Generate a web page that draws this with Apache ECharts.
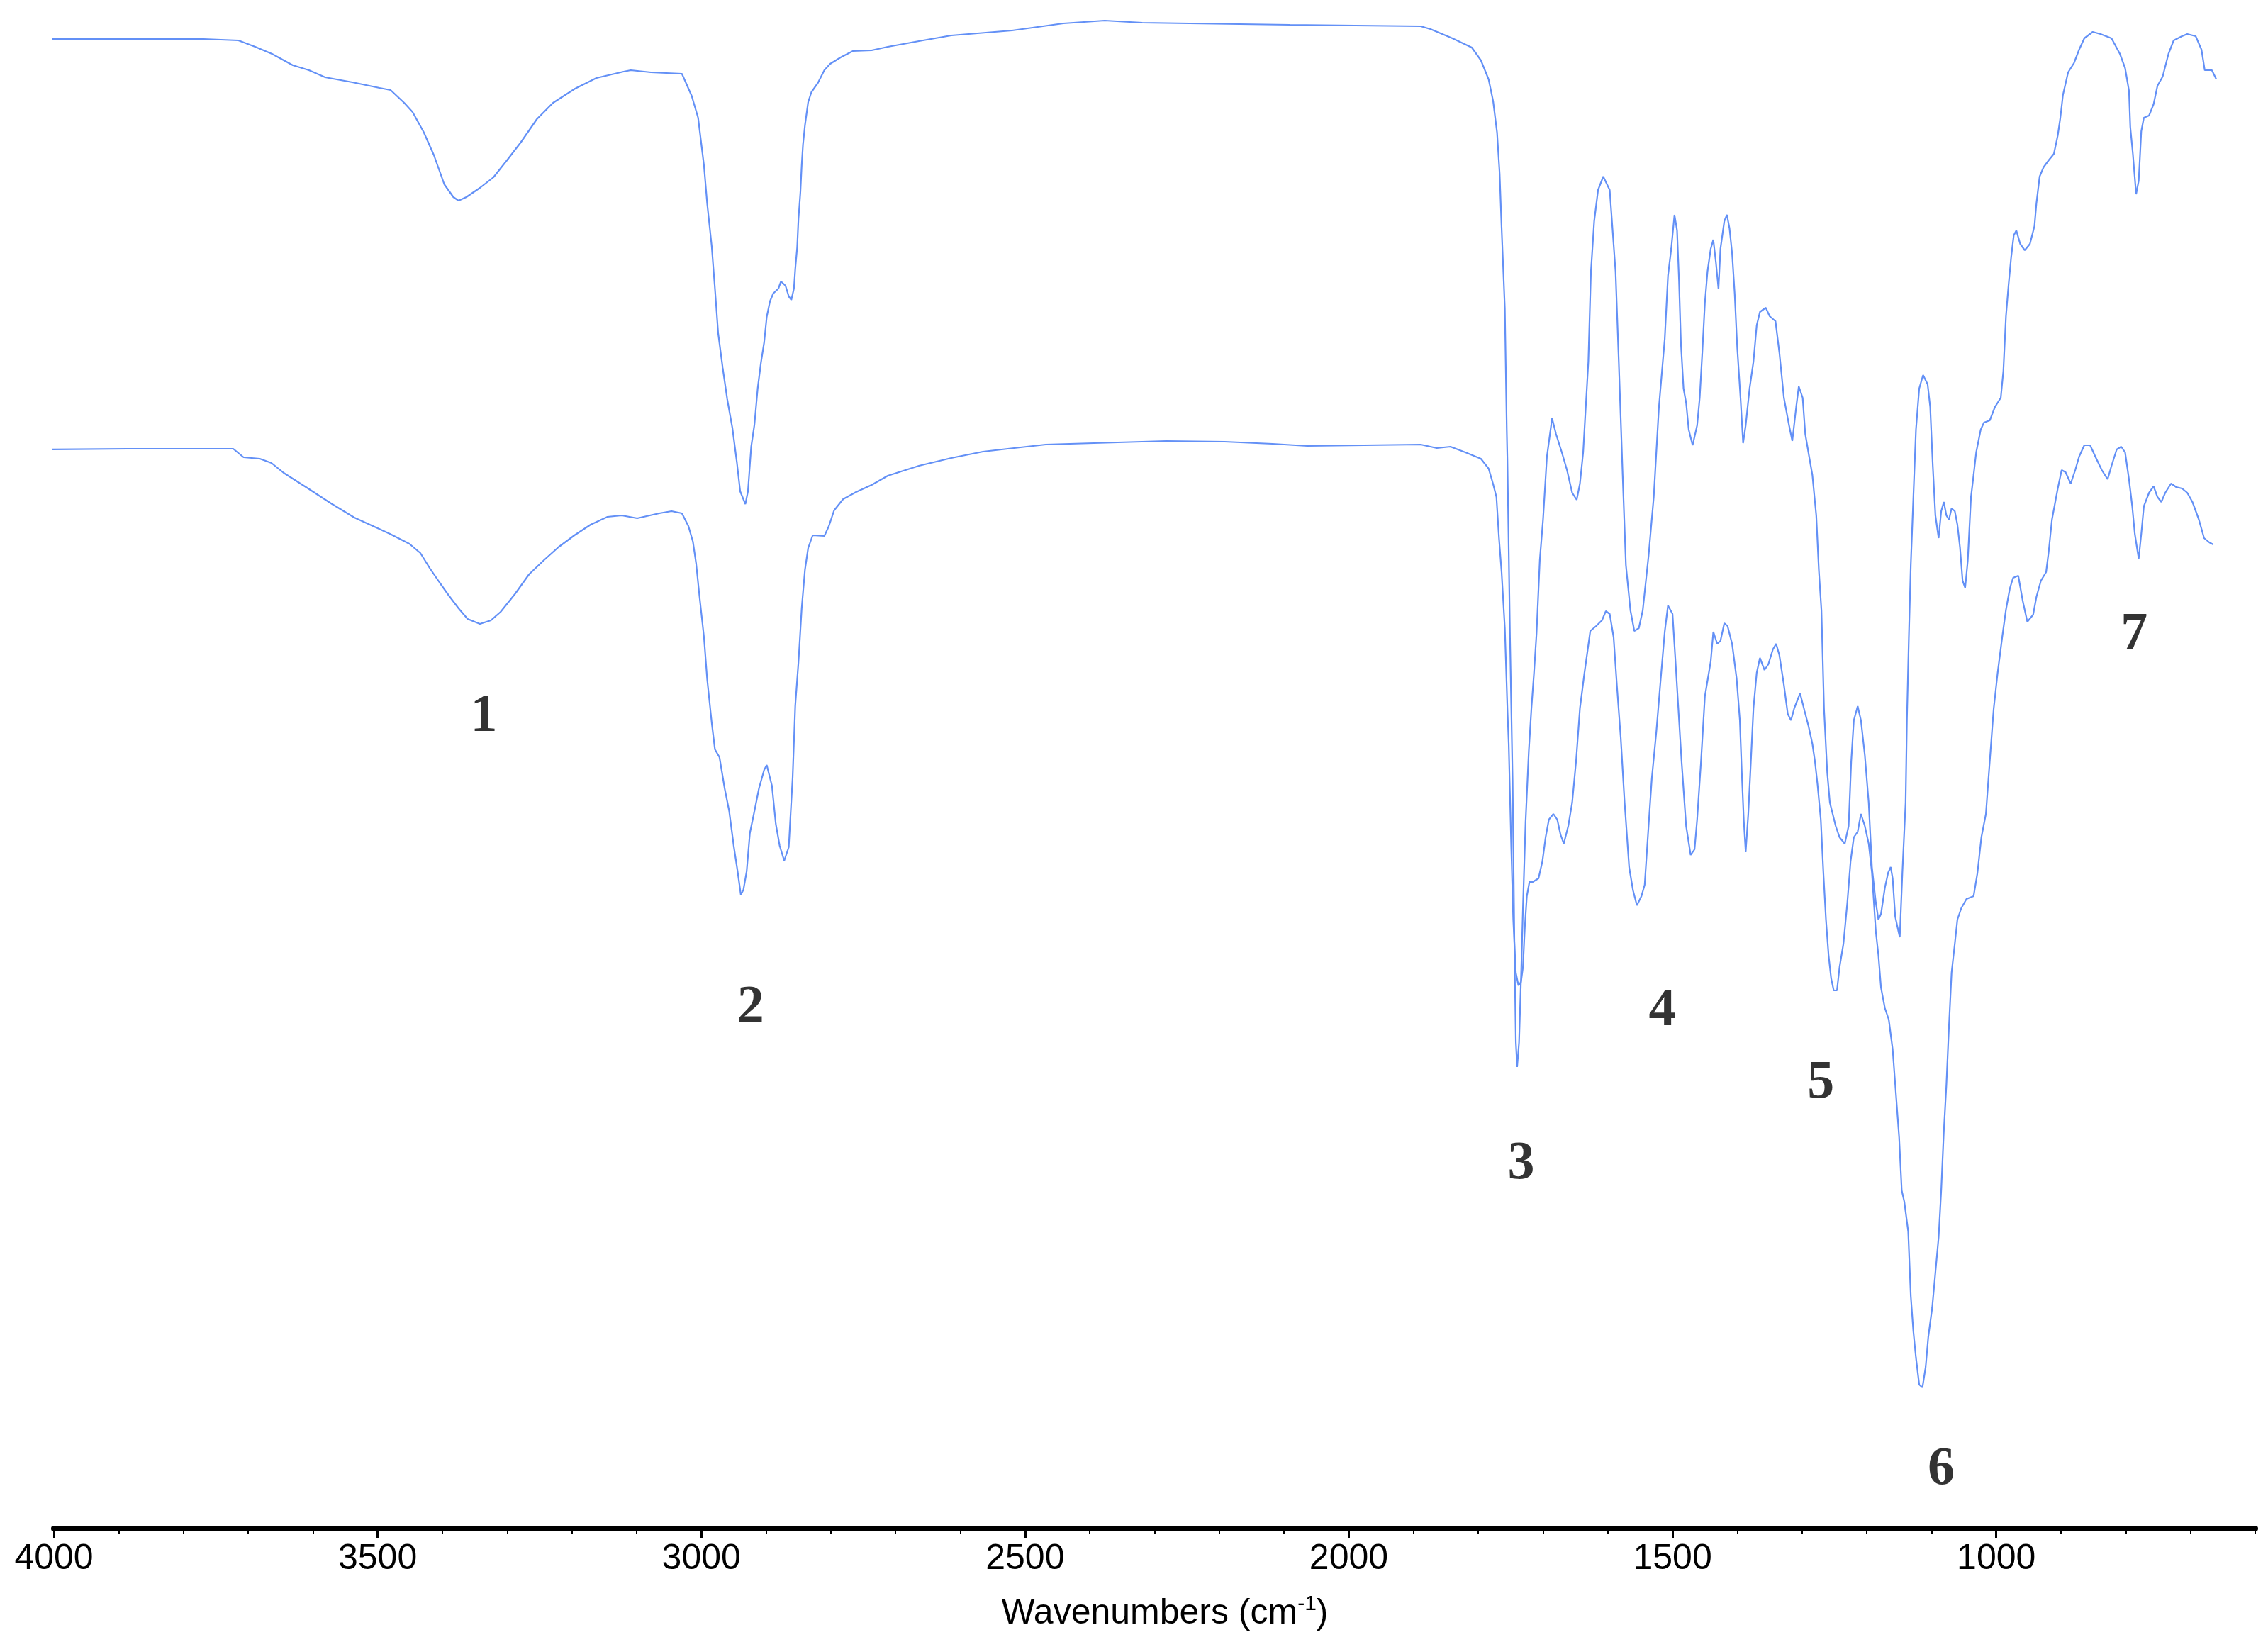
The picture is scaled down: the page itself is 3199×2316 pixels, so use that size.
<!DOCTYPE html>
<html>
<head>
<meta charset="utf-8">
<script src="https://cdn.jsdelivr.net/npm/echarts@6/dist/echarts.min.js"></script>
<style>
html,body{margin:0;padding:0;background:#fff;}
#chart{width:3199px;height:2316px;}
</style>
</head>
<body>
<div id="chart"></div>
<script>
// Upper FTIR spectrum: [wavenumber (cm-1), transmittance (a.u., offset)]
const topSpectrum = [
[4008,210.1],[3886,210.1],[3769,210.1],[3715,209.9],[3689,209.0],[3663,208.0],[3631,206.4],[3606,205.7],[3581,204.7],[3539,204.0],[3497,203.2],[3480,202.9],[3459,201.1],[3446,199.8],[3429,197.0],[3413,193.7],[3397,189.6],[3383,187.8],[3375,187.3],[3363,187.8],[3342,189.1],[3321,190.6],[3301,192.9],[3279,195.5],[3254,198.8],[3229,201.1],[3195,203.1],[3162,204.6],[3120,205.5],[3109,205.7],[3078,205.4],[3030,205.2],[3015,202.1],[3005,199.0],[2996,192.3],[2991,186.9],[2984,180.9],[2979,174.9],[2974,168.6],[2967,163.7],[2960,159.3],[2952,155.2],[2945,150.3],[2940,146.3],[2932,144.5],[2928,146.3],[2923,152.6],[2918,155.7],[2913,160.8],[2908,164.4],[2903,167.3],[2899,170.9],[2894,173.1],[2889,174.2],[2881,174.9],[2877,175.9],[2870,175.3],[2865,173.8],[2861,173.3],[2857,174.9],[2855,177.6],[2852,180.7],[2850,184.7],[2847,188.5],[2845,192.3],[2843,195.2],[2840,197.9],[2835,201.2],[2830,202.6],[2820,203.9],[2810,205.7],[2801,206.6],[2785,207.5],[2766,208.4],[2737,208.5],[2712,209.0],[2664,209.8],[2614,210.6],[2520,211.3],[2441,212.3],[2377,212.7],[2319,212.4],[2246,212.3],[2091,212.1],[1889,211.9],[1874,211.5],[1840,210.2],[1810,208.9],[1796,207.1],[1784,204.4],[1777,201.3],[1771,196.9],[1767,191.1],[1764,183.5],[1759,172.1],[1756,154.9],[1755,150.6],[1751,125.6],[1747,105.6],[1744,80.6],[1742,68.6],[1740,65.1],[1737,68.6],[1734,77.6],[1731,87.6],[1727,99.6],[1722,109.6],[1718,115.6],[1714,120.6],[1710,126.3],[1705,136.6],[1700,142.3],[1694,151.2],[1686,156.6],[1680,154.4],[1671,151.8],[1663,149.3],[1655,146.1],[1648,145.1],[1643,147.4],[1638,151.8],[1630,164.6],[1626,177.3],[1621,184.4],[1615,188.8],[1607,190.7],[1597,188.8],[1588,177.3],[1583,164.6],[1577,148.6],[1572,135.9],[1565,129.5],[1559,126.6],[1552,127.0],[1546,129.5],[1537,137.2],[1529,145.5],[1521,158.2],[1512,167.8],[1507,176.7],[1502,180.5],[1497,185.3],[1493,183.1],[1490,176.1],[1487,167.1],[1483,160.8],[1479,158.8],[1475,155.0],[1469,152.8],[1462,155.6],[1458,159.5],[1454,165.9],[1450,172.9],[1446,177.3],[1441,180.5],[1437,181.8],[1433,178.6],[1429,174.8],[1426,180.5],[1420,184.4],[1416,185.3],[1412,183.4],[1408,179.9],[1404,174.2],[1400,166.5],[1395,159.5],[1391,153.1],[1387,155.6],[1381,160.8],[1375,164.6],[1370,169.7],[1365,171.6],[1356,172.2],[1350,171.0],[1341,170.3],[1335,165.9],[1328,159.5],[1320,155.6],[1315,153.4],[1309,158.2],[1305,161.1],[1299,159.5],[1295,154.4],[1289,151.2],[1284,148.6],[1278,142.9],[1274,135.2],[1270,129.5],[1266,115.6],[1261,106.6],[1257,102.4],[1248,99.1],[1242,97.5],[1234,96.6],[1228,99.1],[1224,108.2],[1220,114.0],[1214,116.0],[1209,114.0],[1203,109.1],[1197,102.4],[1192,93.3],[1186,88.3],[1182,85.9],[1178,86.7],[1172,90.4],[1167,92.5],[1163,93.3],[1160,91.7],[1156,86.3],[1151,84.2],[1149,83.4],[1145,92.5],[1140,102.4],[1138,114.0],[1135,125.6],[1132,135.9],[1128,145.5],[1124,155.0],[1119,160.8],[1113,162.7],[1106,161.4],[1102,158.2],[1098,149.9],[1094,142.9],[1089,139.7],[1085,143.5],[1081,144.8],[1077,142.9],[1073,142.3],[1069,143.9],[1064,143.5],[1060,141.6],[1056,138.4],[1052,133.7],[1048,132.7],[1044,136.5],[1039,145.5],[1035,148.6],[1031,151.8],[1024,155.0],[1019,156.0],[1010,156.3],[1002,158.2],[993,159.5],[989,163.3],[985,171.0],[981,175.4],[977,179.3],[973,182.4],[969,183.1],[963,181.2],[956,180.3],[948,181.2],[941,183.7],[938,186.9],[933,190.7],[927,192.0],[919,193.0],[911,193.9],[905,196.5],[901,199.0],[897,202.2],[889,205.4],[880,206.7],[872,208.6],[864,210.2],[851,211.1],[839,210.8],[822,210.2],[809,208.0],[801,206.0],[795,202.8],[793,197.7],[789,193.9],[784,188.2],[780,190.1],[776,197.1],[772,199.0],[764,199.3],[757,200.9],[751,203.5],[743,204.8],[734,208.0],[726,209.9],[713,210.5],[705,210.8],[692,210.5],[683,208.6],[678,205.7],[667,205.7],[660,204.4]
];

// Lower FTIR spectrum: [wavenumber (cm-1), transmittance (a.u., offset)]
const bottomSpectrum = [
[4010,152.2],[3886,152.3],[3723,152.3],[3707,151.1],[3682,150.9],[3664,150.3],[3645,148.9],[3609,146.8],[3572,144.6],[3536,142.6],[3500,141.1],[3481,140.3],[3451,138.9],[3434,137.6],[3419,135.4],[3404,133.4],[3390,131.6],[3375,129.8],[3361,128.3],[3342,127.6],[3325,128.1],[3310,129.3],[3288,131.8],[3266,134.6],[3243,136.6],[3221,138.4],[3196,140.1],[3171,141.6],[3145,142.7],[3123,142.9],[3099,142.5],[3065,143.2],[3046,143.5],[3030,143.2],[3020,141.4],[3013,139.2],[3008,136.1],[3003,131.6],[2996,125.8],[2991,119.8],[2984,113.7],[2979,109.9],[2972,108.8],[2964,104.4],[2957,101.2],[2950,96.3],[2944,92.7],[2939,89.4],[2935,90.1],[2930,92.7],[2925,98.1],[2918,101.2],[2911,104.4],[2903,107.0],[2899,107.7],[2891,104.8],[2885,99.4],[2879,96.3],[2872,94.2],[2865,96.1],[2859,105.9],[2855,116.0],[2850,122.2],[2845,129.8],[2840,135.2],[2835,138.3],[2828,140.1],[2810,140.0],[2803,141.4],[2795,143.6],[2781,145.2],[2761,146.2],[2737,147.2],[2712,148.5],[2664,149.9],[2614,151.0],[2565,151.9],[2517,152.4],[2468,152.9],[2394,153.1],[2282,153.4],[2192,153.3],[2118,153.0],[2064,152.7],[1889,152.9],[1864,152.4],[1843,152.6],[1820,151.8],[1796,150.9],[1784,149.5],[1777,147.3],[1772,145.5],[1768,139.7],[1764,134.9],[1759,127.0],[1755,115.6],[1753,110.7],[1749,95.8],[1746,85.9],[1742,78.4],[1738,76.6],[1734,77.1],[1731,79.2],[1728,85.0],[1725,89.2],[1721,91.2],[1716,91.2],[1707,91.7],[1701,94.1],[1696,97.5],[1691,100.0],[1684,100.8],[1678,100.0],[1673,97.9],[1668,96.6],[1661,99.1],[1655,102.4],[1649,108.2],[1643,115.7],[1636,120.7],[1627,126.6],[1618,127.3],[1609,128.1],[1603,129.4],[1597,129.0],[1591,125.7],[1586,119.0],[1580,111.6],[1574,102.4],[1567,93.3],[1561,90.0],[1555,87.9],[1548,89.2],[1543,90.8],[1537,99.1],[1532,105.8],[1525,112.4],[1519,119.0],[1512,126.5],[1507,130.2],[1500,129.0],[1496,123.2],[1491,115.7],[1486,108.2],[1479,99.1],[1472,95.0],[1466,95.8],[1462,100.0],[1456,108.2],[1450,117.4],[1441,122.3],[1437,126.5],[1431,124.8],[1426,125.2],[1420,127.7],[1415,127.3],[1408,124.8],[1401,119.9],[1396,114.0],[1393,106.6],[1390,100.0],[1387,95.4],[1383,100.8],[1379,108.2],[1375,115.7],[1370,120.7],[1365,122.8],[1358,121.1],[1352,121.9],[1345,124.0],[1340,124.8],[1335,123.2],[1328,119.0],[1322,114.9],[1317,114.0],[1312,115.7],[1303,117.8],[1296,115.3],[1290,113.2],[1284,110.7],[1280,108.2],[1276,104.9],[1271,100.0],[1267,92.5],[1263,85.9],[1259,80.9],[1255,77.6],[1251,75.9],[1246,75.9],[1242,79.2],[1236,82.5],[1230,88.3],[1225,94.1],[1220,97.5],[1214,98.3],[1209,100.8],[1203,99.1],[1197,96.6],[1192,92.5],[1186,84.2],[1182,80.9],[1178,76.3],[1172,73.4],[1166,71.8],[1160,67.6],[1156,62.6],[1150,55.2],[1146,47.7],[1142,46.1],[1136,41.9],[1132,32.8],[1128,27.8],[1124,24.1],[1119,20.3],[1114,19.9],[1109,22.8],[1105,27.0],[1099,31.1],[1094,36.1],[1089,41.1],[1085,47.7],[1081,56.0],[1077,62.6],[1073,70.9],[1069,78.4],[1064,82.5],[1060,85.9],[1054,87.5],[1046,88.8],[1035,89.2],[1029,92.5],[1023,97.5],[1016,100.8],[1012,105.8],[1008,110.7],[1004,115.6],[998,120.6],[991,125.6],[985,129.6],[979,132.6],[974,134.1],[966,134.4],[959,130.8],[952,127.9],[943,128.9],[938,131.4],[931,133.7],[923,134.9],[919,137.8],[914,142.3],[905,146.7],[899,149.3],[893,149.0],[885,147.4],[878,149.3],[872,151.2],[864,152.8],[855,152.8],[847,151.2],[837,149.3],[828,148.0],[822,149.9],[814,152.2],[807,152.6],[801,151.8],[795,148.0],[790,144.2],[786,140.3],[780,136.8],[776,140.3],[772,144.2],[764,146.1],[757,147.0],[751,145.5],[745,144.8],[739,146.1],[730,147.4],[722,146.9],[713,146.7],[705,146.1],[697,144.8],[687,142.3],[679,139.7],[671,139.1],[665,138.8]
];

// Band annotations
const peakLabels = ['1', '2', '3', '4', '5', '6', '7'];
const peakLabelWn = [3336, 2924, 1734, 1516, 1271, 1085, 787];
const peakLabelT = [114.5, 73.4, 51.4, 73.0, 62.8, 8.3, 126.0];

// Axis tick values
const majorTickValues = [4000, 3500, 3000, 2500, 2000, 1500, 1000];
const xAxisTitle = 'Wavenumbers (cm';
const xAxisTitleSup = '-1';

const lineColor = '#6390f6';

const chart = echarts.init(document.getElementById('chart'), null, {renderer: 'canvas'});
const option = {
  animation: false,
  backgroundColor: '#ffffff',
  title: {
    text: '{a|' + xAxisTitle + '}{s|' + xAxisTitleSup + '}{a|)}',
    left: 1643,
    top: 2248,
    textAlign: 'center',
    padding: 0,
    textStyle: {
      fontWeight: 'normal',
      rich: {
        a: {fontFamily: 'Liberation Sans', fontWeight: 'normal', fontSize: 50, color: '#000', lineHeight: 56},
        s: {fontFamily: 'Liberation Sans', fontWeight: 'normal', fontSize: 30, color: '#000', lineHeight: 30, verticalAlign: 'top'}
      }
    }
  },
  grid: {left: 76, right: 18, top: 16, bottom: 160},
  xAxis: [
    {
      type: 'value',
      min: 600,
      max: 4000,
      interval: 100,
      inverse: true,
      position: 'bottom',
      axisLine: {show: true, lineStyle: {color: '#000', width: 8}},
      axisTick: {show: true, customValues: majorTickValues, length: 13, lineStyle: {color: '#000', width: 3}},
      axisLabel: {
        customValues: majorTickValues,
        formatter: v => String(v),
        margin: 18, fontFamily: 'Liberation Sans', fontSize: 50, color: '#000'
      },
      splitLine: {show: false}
    },
    {
      type: 'value',
      min: 600,
      max: 4000,
      interval: 100,
      inverse: true,
      position: 'bottom',
      axisLine: {show: false},
      axisTick: {show: true, length: 8, lineStyle: {color: '#000', width: 2}},
      axisLabel: {show: false},
      splitLine: {show: false}
    }
  ],
  yAxis: {type: 'value', min: 0, max: 214, show: false, splitLine: {show: false}},
  series: [
    {
      type: 'line', xAxisIndex: 0, data: topSpectrum, showSymbol: false, symbol: 'none', clip: false, silent: true,
      lineStyle: {color: lineColor, width: 2.2}
    },
    {
      type: 'line', xAxisIndex: 0, data: bottomSpectrum, showSymbol: false, symbol: 'none', clip: false, silent: true,
      lineStyle: {color: lineColor, width: 2.2}
    },
    {
      type: 'scatter', xAxisIndex: 0, silent: true, symbolSize: 1,
      itemStyle: {color: 'transparent'},
      data: peakLabelWn.map((w, i) => [w, peakLabelT[i], peakLabels[i]]),
      label: {
        show: true, position: 'inside',
        formatter: p => p.data[2],
        fontFamily: 'Liberation Serif', fontWeight: 'bold', fontSize: 76, color: '#000'
      }
    }
  ]
};
chart.setOption(option);
</script>
</body>
</html>
